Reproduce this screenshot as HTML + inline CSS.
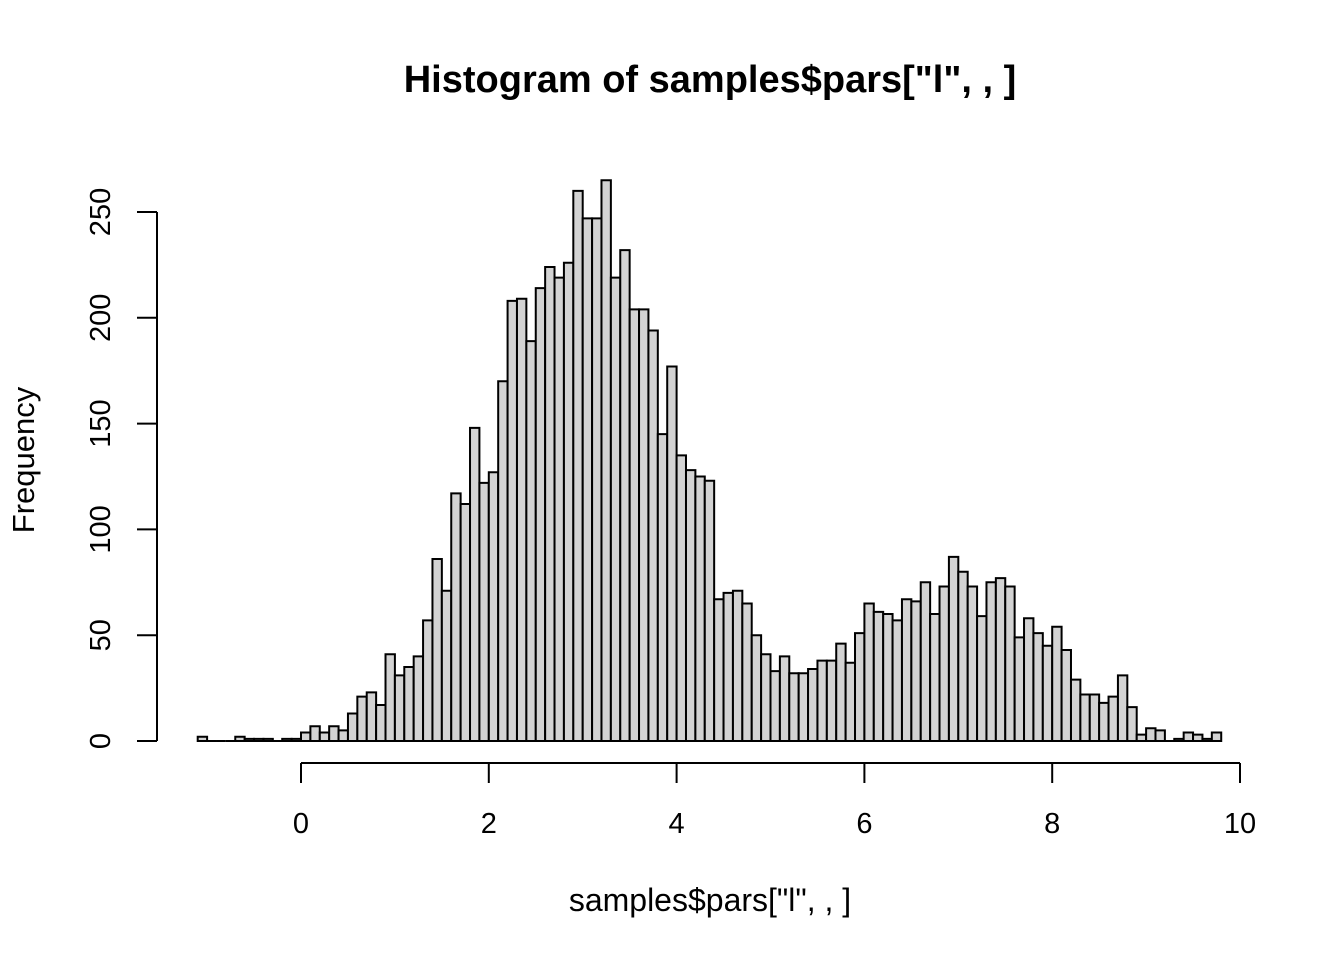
<!DOCTYPE html>
<html><head><meta charset="utf-8"><style>
html,body{margin:0;padding:0;background:#fff}
svg{display:block;font-family:"Liberation Sans",Arial,sans-serif}
</style></head><body>
<svg id="chart" width="1344" height="960" viewBox="0 0 1344 960">
<text x="710" y="92" text-anchor="middle" font-size="38" font-weight="bold">Histogram of samples$pars["l", , ]</text>
<text x="710" y="911" text-anchor="middle" font-size="32">samples$pars["l", , ]</text>
<text transform="translate(34,460) rotate(-90)" text-anchor="middle" font-size="31">Frequency</text>
<g id="bars"></g>
<g id="xaxis"></g>
<g id="yaxis"></g>
</svg>
<script>
const binStart = -1.1;
const binWidth = 0.1;
const counts = [2,0,0,0,2,1,1,1,0,1,1,
4,7,4,7,5,13,21,23,17,41,31,35,40,57,86,71,117,112,148,
122,127,170,208,209,189,214,224,219,226,260,247,247,265,219,232,204,204,194,145,177,135,128,125,123,
67,70,71,65,50,41,33,40,32,32,34,38,38,46,37,51,65,61,60,57,67,66,75,60,73,87,80,73,59,75,77,73,49,58,51,45,54,43,29,22,22,18,21,31,16,3,6,5,0,1,4,3,1,4];
const xTicks = [0,2,4,6,8,10];
const yTicks = [0,50,100,150,200,250];

const NS = "http://www.w3.org/2000/svg";
const xs = v => 301 + (v - 0) * 93.9;
const ys = v => 741 - v * 2.116;
function mk(tag, attrs, parent) {
  const e = document.createElementNS(NS, tag);
  for (const k in attrs) e.setAttribute(k, attrs[k]);
  parent.appendChild(e);
  return e;
}
const gb = document.getElementById('bars');
counts.forEach((c, i) => {
  const x0 = xs(binStart + i * binWidth), x1 = xs(binStart + (i + 1) * binWidth);
  const y0 = ys(0), y1 = ys(c);
  const r = mk('path', {d: `M${x0},${y0} L${x0},${y1} L${x1},${y1} L${x1},${y0} Z`, fill: '#d3d3d3', stroke: '#000', 'stroke-width': 2}, gb);
  
  
});
const gx = document.getElementById('xaxis');
mk('line', {x1: xs(xTicks[0]), x2: xs(xTicks[xTicks.length - 1]), y1: 763, y2: 763, stroke: '#000', 'stroke-width': 2}, gx);
xTicks.forEach(t => {
  mk('line', {x1: xs(t), x2: xs(t), y1: 763, y2: 783, stroke: '#000', 'stroke-width': 2}, gx);
  const tx = mk('text', {x: xs(t), y: 833, 'text-anchor': 'middle', 'font-size': 29}, gx);
  tx.textContent = t;
  
  
});
const gy = document.getElementById('yaxis');
mk('line', {x1: 157, x2: 157, y1: ys(yTicks[0]), y2: ys(yTicks[yTicks.length - 1]), stroke: '#000', 'stroke-width': 2}, gy);
yTicks.forEach(t => {
  mk('line', {x1: 137, x2: 157, y1: ys(t), y2: ys(t), stroke: '#000', 'stroke-width': 2}, gy);
  const tx = mk('text', {transform: `translate(110,${ys(t)}) rotate(-90)`, 'text-anchor': 'middle', 'font-size': 29}, gy);
  tx.textContent = t;
  
  
});
</script>
</body></html>
